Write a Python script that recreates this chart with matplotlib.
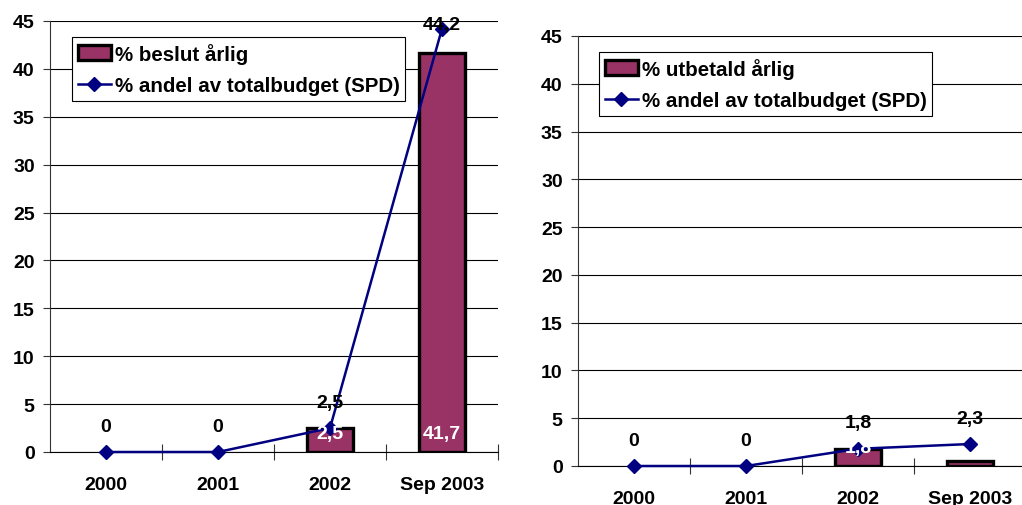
import matplotlib
matplotlib.use("Agg")
import matplotlib.pyplot as plt
from matplotlib.lines import Line2D
from matplotlib.patches import Patch

plt.rcParams['font.family'] = ['Liberation Sans', 'DejaVu Sans']
plt.rcParams['font.weight'] = 'bold'

categories = ["2000", "2001", "2002", "Sep 2003"]

# Left panel: decided per year
beslut_bars = [0, 0, 2.5, 41.7]
beslut_line = [0, 0, 2.5, 44.2]
beslut_bar_labels = [None, None, "2,5", "41,7"]

# Right panel: paid out per year
utbetald_bars = [0, 0, 1.8, 0.5]
utbetald_line = [0, 0, 1.8, 2.3]
utbetald_bar_labels = [None, None, "1,8", None]

bar_label_name_left = "% beslut årlig"
bar_label_name_right = "% utbetald årlig"
line_label_name = "% andel av totalbudget (SPD)"

yticks = [0, 5, 10, 15, 20, 25, 30, 35, 40, 45]

BAR_COLOR = "#993366"
LINE_COLOR = "#000080"
W, H = 1022, 506
FS = 14
LEG_FS = 14.8


def fmt(v):
    return ("%g" % v).replace(".", ",")


def draw_panel(ax, bars, line, bar_labels, bar_name, legend_box):
    x = list(range(len(categories)))
    ax.set_xlim(-0.5, len(categories) - 0.5)
    ax.set_ylim(0, 45)
    ax.set_yticks(yticks)
    ax.yaxis.grid(True, color="black", linewidth=0.8)
    ax.set_axisbelow(True)
    for side in ("top", "right"):
        ax.spines[side].set_visible(False)
    ax.spines["left"].set_color("#333333")
    ax.spines["bottom"].set_color("black")
    ax.tick_params(axis="y", direction="out", length=5, width=0.8,
                   color="#333333", labelsize=FS, pad=6)
    ax.set_xticks(x)
    ax.set_xticklabels(categories, fontsize=FS, fontweight="bold")
    ax.tick_params(axis="x", which="major", length=0, pad=17)
    ax.set_xticks([i + 0.5 for i in x], minor=True)
    ax.tick_params(axis="x", which="minor", direction="inout", length=11,
                   width=0.8, color="#333333")
    for lbl in ax.get_yticklabels():
        lbl.set_fontweight("bold")

    widths = [0 if v == 0 else 2.4 for v in bars]
    ax.bar(x, bars, width=0.41, color=BAR_COLOR, edgecolor="black",
           linewidth=widths, zorder=2)
    ax.plot(x, line, color=LINE_COLOR, linewidth=1.8, marker="D",
            markersize=7.5, zorder=3, clip_on=False)

    for xi, lab in zip(x, bar_labels):
        if lab is not None:
            ax.annotate(lab, (xi, 0), xytext=(0, 7), textcoords="offset points",
                        ha="center", va="bottom", color="white",
                        fontsize=FS, fontweight="bold", zorder=4)
    for xi, v in zip(x, line):
        ty = min(v + 2.7, 44.6)
        ax.text(xi, ty, fmt(v), ha="center", va="center", color="black",
                fontsize=FS, fontweight="bold", zorder=5)

    handles = [Patch(facecolor=BAR_COLOR, edgecolor="black", linewidth=2.4),
               Line2D([], [], color=LINE_COLOR, marker="D", markersize=7.5,
                      linewidth=1.8)]
    leg = ax.legend(handles, [bar_name, line_label_name],
                    loc="upper left", bbox_to_anchor=legend_box,
                    bbox_transform=ax.figure.transFigure,
                    frameon=True, fancybox=False, framealpha=1,
                    edgecolor="black", prop={"size": LEG_FS, "weight": "bold"},
                    handlelength=1.6, handleheight=0.7, handletextpad=0.2,
                    borderpad=0.28, labelspacing=0.6, borderaxespad=0)
    leg.get_frame().set_linewidth(0.8)
    leg.set_zorder(6)


fig = plt.figure(figsize=(W / 100, H / 100), dpi=100)

ax1 = fig.add_axes([50 / W, (H - 453) / H, 448 / W, 431 / H])
draw_panel(ax1, beslut_bars, beslut_line, beslut_bar_labels,
           bar_label_name_left, (72 / W, 1 - 38 / H))

ax2 = fig.add_axes([578 / W, (H - 467) / H, 448 / W, 430 / H])
draw_panel(ax2, utbetald_bars, utbetald_line, utbetald_bar_labels,
           bar_label_name_right, (599 / W, 1 - 53 / H))

fig.savefig("out.png", dpi=100)
